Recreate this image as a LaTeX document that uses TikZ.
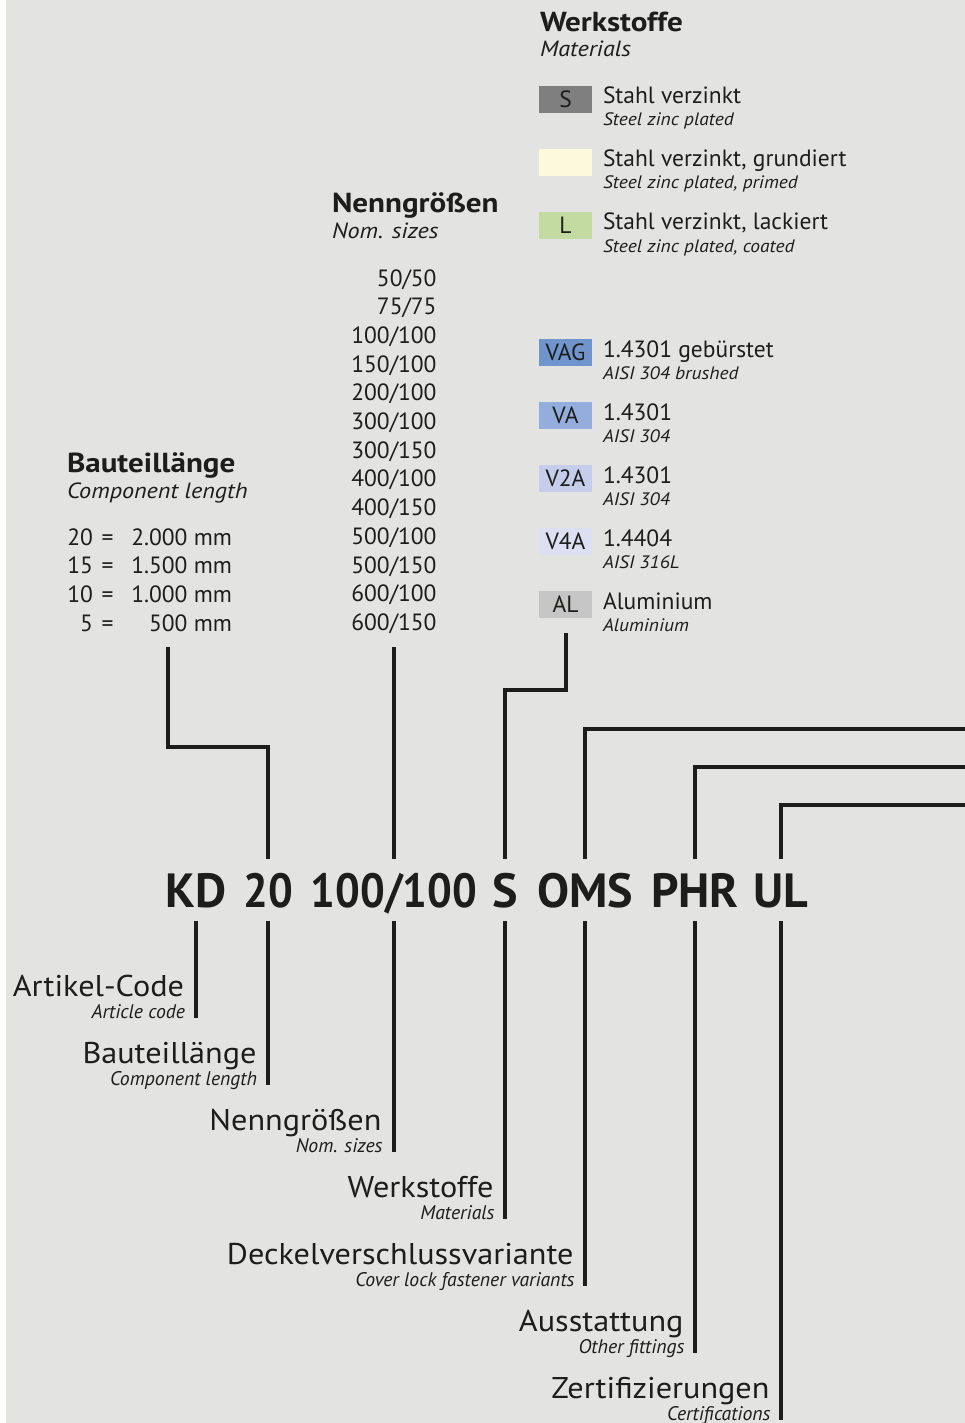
\documentclass[tikz,border=0pt]{standalone}
\usepackage{fontspec}
\setmainfont{PT Sans}
\newfontfamily\rkLabFam[FakeStretch=1.075]{PT Sans}
\newfontfamily\rkLegSubFam[FakeStretch=1.08]{PT Sans}
\newfontfamily\rkTitleFam[FakeStretch=1.13]{PT Sans}
\newfontfamily\rkTitleSubFam[FakeStretch=1.1]{PT Sans}
\newfontfamily\rkDigFam[FakeStretch=0.91]{PT Sans}
\definecolor{bg}{HTML}{E3E3E1}
\definecolor{ink}{HTML}{1D1D1B}
\definecolor{mS}{HTML}{7F7F7F}
\definecolor{mG}{HTML}{FDF9DC}
\definecolor{mL}{HTML}{C2DBA0}
\definecolor{mVAG}{HTML}{7094CC}
\definecolor{mVA}{HTML}{93ADDC}
\definecolor{mVtwo}{HTML}{C5CDEA}
\definecolor{mVfour}{HTML}{DCE0F2}
\definecolor{mAL}{HTML}{C6C6C6}
\newcommand\rkcode{\fontsize{48}{50}\selectfont\bfseries}
\newcommand\rkcodedig{\rkDigFam\fontsize{48}{50}\selectfont\bfseries}
\newcommand\rklab{\rkLabFam\fontsize{30}{32}\selectfont}
\newcommand\rklabsub{\fontsize{19.7}{21}\selectfont\itshape}
\newcommand\rktitle{\rkTitleFam\fontsize{27.5}{29}\selectfont\bfseries}
\newcommand\rktitlesub{\rkTitleSubFam\fontsize{22}{24}\selectfont\itshape}
\newcommand\rkmain{\fontsize{23.5}{28.7}\selectfont}
\newcommand\rksub{\rkLegSubFam\fontsize{18}{19}\selectfont\itshape}
\begin{document}
\begin{tikzpicture}[x=1pt,y=-1pt,
  every node/.style={inner sep=0pt,outer sep=0pt,text=ink},
  code/.style={font=\rkcode,anchor=base,text height=34pt,text depth=0pt,inner ysep=14pt},
  codedig/.style={code,font=\rkcodedig},
  lab/.style={font=\rklab,anchor=base east},
  labsub/.style={font=\rklabsub,anchor=base east},
  ttl/.style={font=\rktitle,anchor=base west},
  ttlsub/.style={font=\rktitlesub,anchor=base west},
  mtxt/.style={font=\rkmain,anchor=base west},
  msub/.style={font=\rksub,anchor=base west},
  num/.style={font=\rkmain,anchor=base east},
  matbox/.style={minimum width=53pt,minimum height=26.7pt,font=\rkmain,text height=16.7pt,text depth=0pt,anchor=north west},
  lnk/.style={line width=4.8pt,draw=ink}]
\fill[white] (0,0) rectangle (965,1423);
\fill[bg] (6,0) rectangle (965,1423);
\useasboundingbox (0,0) rectangle (965,1423);

% ---- Werkstoffe legend
\node[ttl] (wt) at (540,31.7) {Werkstoffe};
\node[ttlsub] (wts) at (540,56.7) {Materials};
\node[matbox,fill=mS] (bs) at (539,86) {S};
\node[mtxt] (ts) at (603,104) {Stahl verzinkt};
\node[msub] (tss) at (603,126) {Steel zinc plated};
\node[matbox,fill=mG] (bg) at (539,149) {};
\node[mtxt] (tg) at (603,167) {Stahl verzinkt, grundiert};
\node[msub] (tgs) at (603,189) {Steel zinc plated, primed};
\node[matbox,fill=mL] (bl) at (539,212) {L};
\node[mtxt] (tl) at (603,230) {Stahl verzinkt, lackiert};
\node[msub] (tls) at (603,252) {Steel zinc plated, coated};
\node[matbox,fill=mVAG] (bvag) at (539,339) {VAG};
\node[mtxt] (tvag) at (603,357) {1.4301 gebürstet};
\node[msub] (tvags) at (603,379) {AISI 304 brushed};
\node[matbox,fill=mVA] (bva) at (539,402) {VA};
\node[mtxt] (tva) at (603,420) {1.4301};
\node[msub] (tvas) at (603,442) {AISI 304};
\node[matbox,fill=mVtwo] (bv2a) at (539,465) {V2A};
\node[mtxt] (tv2a) at (603,483) {1.4301};
\node[msub] (tv2as) at (603,505) {AISI 304};
\node[matbox,fill=mVfour] (bv4a) at (539,528) {V4A};
\node[mtxt] (tv4a) at (603,546) {1.4404};
\node[msub] (tv4as) at (603,568) {AISI 316L};
\node[matbox,fill=mAL] (bal) at (539,591) {AL};
\node[mtxt] (tal) at (603,609) {Aluminium};
\node[msub] (tals) at (603,631) {Aluminium};

% ---- Nenngroessen
\node[ttl] (nt) at (332,213) {Nenngrößen};
\node[ttlsub] (nts) at (332,239) {Nom. sizes};
\foreach \t [count=\i from 0] in {50/50,75/75,100/100,150/100,200/100,300/100,300/150,400/100,400/150,500/100,500/150,600/100,600/150}
  \node[num] (n\i) at (436.5,286+28.7*\i) {\t};

% ---- Bauteillaenge
\node[ttl] (bt) at (67,472) {Bauteillänge};
\node[ttlsub] (bts) at (67,498) {Component length};
\foreach \a/\b [count=\i from 0] in {20/2.000 mm,15/1.500 mm,10/1.000 mm,5/500 mm}
  \node[mtxt] (r\i) at (67,545+28.7*\i) {\makebox[26pt][r]{\a}\hspace{7pt}\makebox[15pt][c]{=}\hspace{11pt}\makebox[106pt][r]{\b}};

% ---- code
\node[code] (kd) at (196,907) {KD};
\node[codedig] (c20) at (268,907) {20};
\node[codedig] (c100) at (394,907) {100/100};
\node[code] (cs) at (505,907) {S};
\node[code] (coms) at (585,907) {OMS};
\node[code] (cphr) at (695,907) {PHR};
\node[code] (cul) at (781,907) {UL};

% ---- lower labels
\node[lab] (l1) at (184,996) {Artikel-Code};
\node[labsub] (l1s) at (185,1018) {Article code};
\node[lab] (l2) at (256.5,1063) {Bauteillänge};
\node[labsub] (l2s) at (257,1085) {Component length};
\node[lab] (l3) at (381.5,1130) {Nenngrößen};
\node[labsub] (l3s) at (382.5,1152) {Nom. sizes};
\node[lab] (l4) at (493.5,1197) {Werkstoffe};
\node[labsub] (l4s) at (494.5,1219) {Materials};
\node[lab] (l5) at (573.5,1264) {Deckelverschlussvariante};
\node[labsub] (l5s) at (574.5,1286) {Cover lock fastener variants};
\node[lab] (l6) at (683.5,1331) {Ausstattung};
\node[labsub] (l6s) at (684.5,1353) {Other fittings};
\node[lab] (l7) at (769.5,1398) {Zertifizierungen};
\node[labsub] (l7s) at (770.5,1420) {Certifications};

% ---- lower connectors
\draw[lnk] (kd.south) -- (kd.south |- l1s.base);
\draw[lnk] (c20.south) -- (c20.south |- l2s.base);
\draw[lnk] (c100.south) -- (c100.south |- l3s.base);
\draw[lnk] (cs.south) -- (cs.south |- l4s.base);
\draw[lnk] (coms.south) -- (coms.south |- l5s.base);
\draw[lnk] (cphr.south) -- (cphr.south |- l6s.base);
\draw[lnk] (cul.south) -- (cul.south |- l7s.base);

% ---- upper connectors
\coordinate (t1) at (168,647);
\coordinate (k1) at (268,747);
\draw[lnk] (t1) |- (k1) -- (c20.north);
\coordinate (t2) at (394,647);
\draw[lnk] (t2) -- (c100.north);
\coordinate (t3) at (566,633);
\coordinate (k3) at (505,690);
\draw[lnk] (t3) |- (k3) -- (cs.north);
\coordinate (e1) at (965,729);
\coordinate (e2) at (965,767);
\coordinate (e3) at (965,805);
\draw[lnk] (coms.north) |- (e1);
\draw[lnk] (cphr.north) |- (e2);
\draw[lnk] (cul.north) |- (e3);
\end{tikzpicture}
\end{document}
